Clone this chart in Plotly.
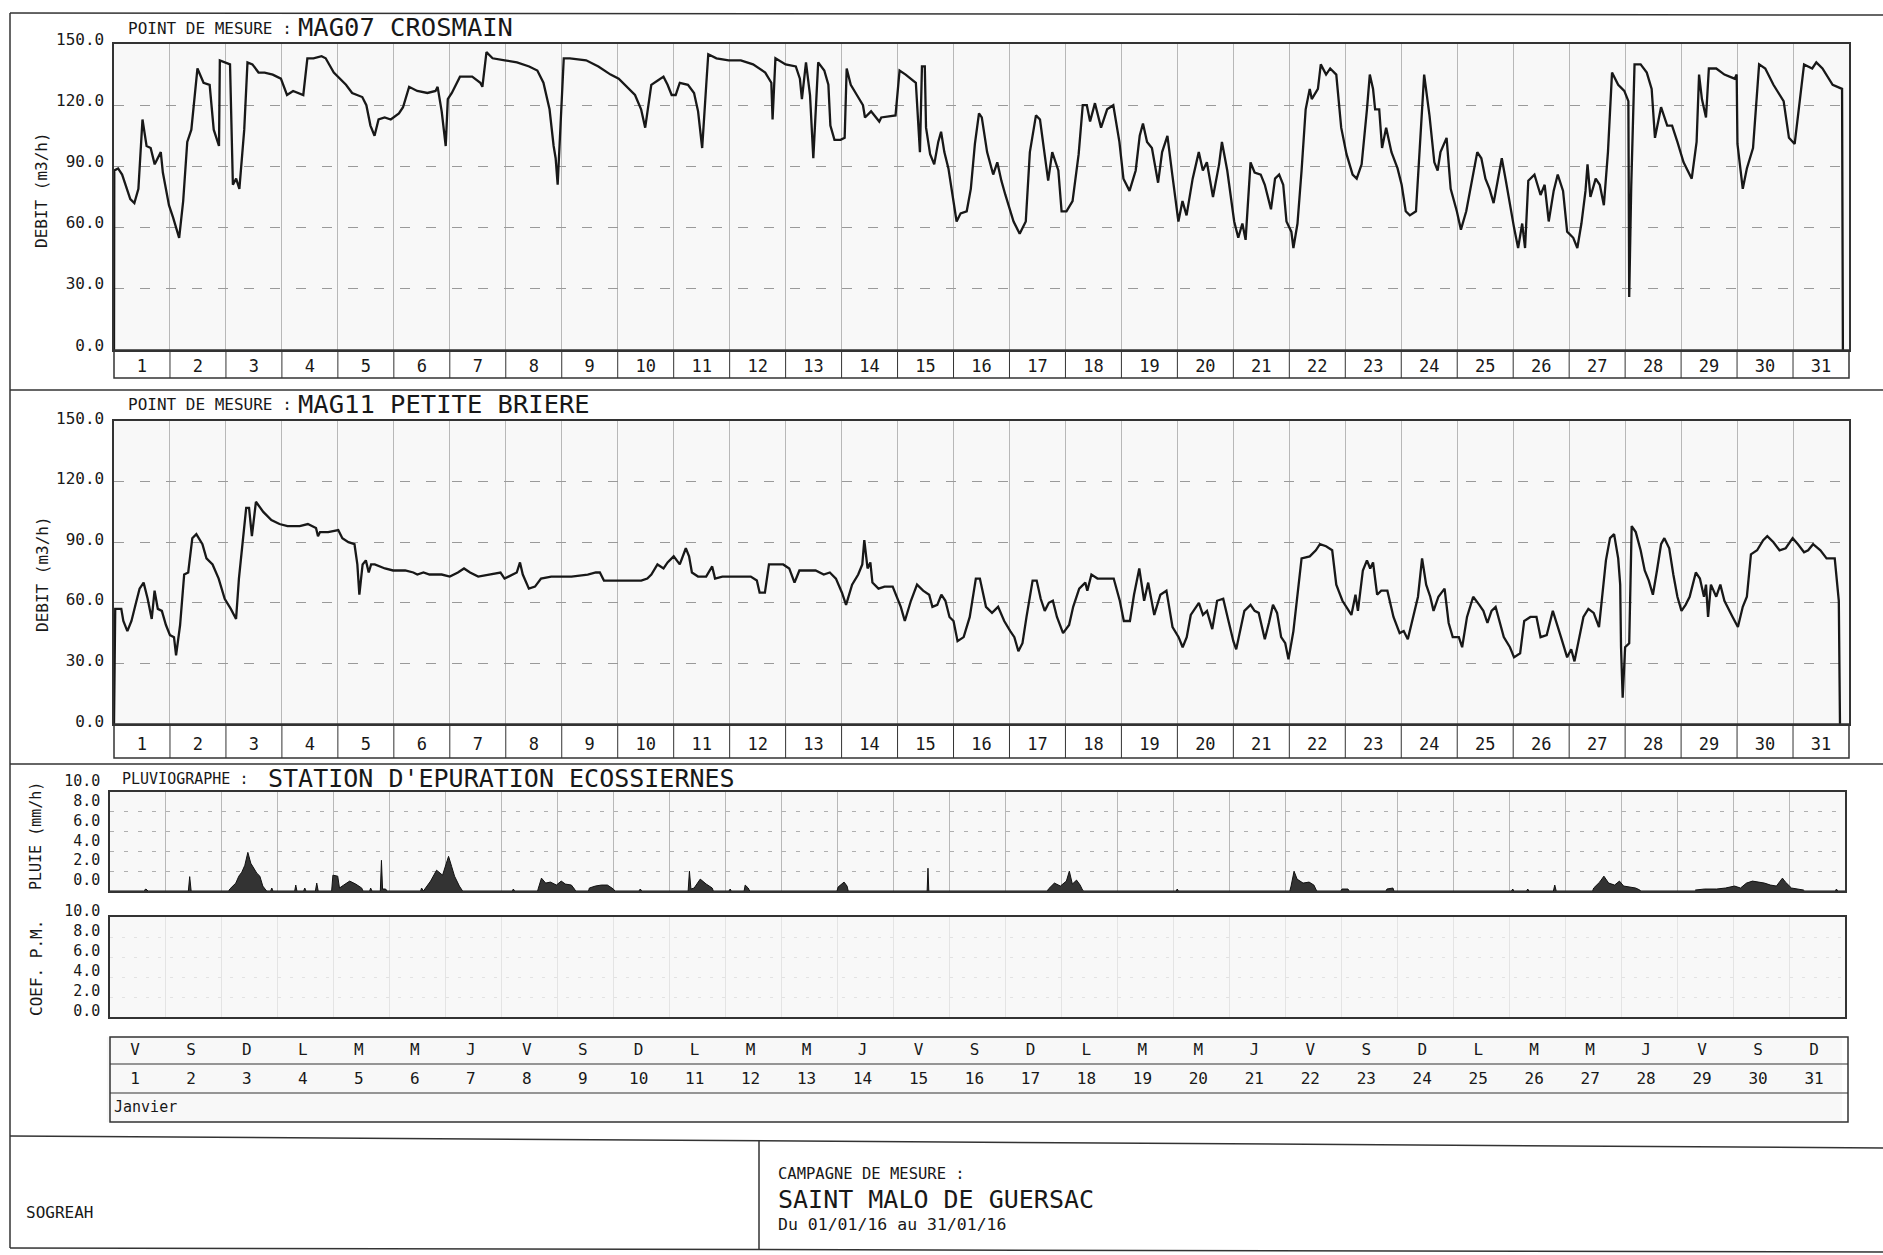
import plotly.graph_objects as go

# ---------------------------------------------------------------- data
days = list(range(1, 32))
day_letters = ["V", "S", "D", "L", "M", "M", "J", "V", "S", "D", "L", "M", "M", "J", "V",
               "S", "D", "L", "M", "M", "J", "V", "S", "D", "L", "M", "M", "J", "V", "S", "D"]
debit_ticks = [0, 30, 60, 90, 120, 150]
pluie_ticks = [0, 2, 4, 6, 8, 10]

# MAG07 CROSMAIN  (time in days since 1 Jan 00:00 -> 1.0 ; debit m3/h)
t_mag07 = [
    1.000, 1.005, 1.073, 1.145, 1.291, 1.364, 1.436, 1.509, 1.582, 1.655,
    1.727, 1.836, 1.873, 1.982, 2.055, 2.164, 2.236, 2.309, 2.382, 2.491,
    2.600, 2.709, 2.782, 2.876, 2.891, 3.000, 3.073, 3.124, 3.182, 3.240,
    3.327, 3.385, 3.473, 3.582, 3.691, 3.836, 3.982, 4.091, 4.200, 4.382,
    4.455, 4.564, 4.709, 4.782, 4.927, 5.145, 5.255, 5.436, 5.509, 5.582,
    5.655, 5.727, 5.836, 5.945, 6.091, 6.164, 6.273, 6.418, 6.600, 6.745,
    6.782, 6.855, 6.927, 6.964, 7.036, 7.182, 7.400, 7.545, 7.582, 7.655,
    7.764, 7.982, 8.200, 8.418, 8.564, 8.673, 8.782, 8.855, 8.891, 8.927,
    9.000, 9.036, 9.145, 9.436, 9.655, 9.873, 10.018,
    10.309, 10.418, 10.491, 10.564, 10.600, 10.709, 10.818, 10.891, 10.964, 11.036,
    11.109, 11.255, 11.364, 11.436, 11.509, 11.582, 11.618, 11.764, 11.982, 12.200,
    12.418, 12.636, 12.745, 12.767, 12.818, 13.000, 13.182, 13.255, 13.291, 13.364,
    13.436, 13.495, 13.582, 13.691, 13.764, 13.800, 13.873, 13.982, 14.055, 14.091,
    14.164, 14.273, 14.382, 14.418, 14.527, 14.673, 14.709, 14.964, 15.036, 15.145,
    15.327, 15.400, 15.436, 15.487, 15.509, 15.582, 15.655, 15.727, 15.778, 15.836,
    15.909, 15.982, 16.055, 16.127, 16.236, 16.309, 16.382, 16.455, 16.505, 16.600,
    16.709, 16.782, 16.855, 16.927, 17.000, 17.073, 17.182, 17.291, 17.364, 17.473,
    17.545, 17.618, 17.691, 17.764, 17.873, 17.931, 18.018, 18.127, 18.236, 18.309,
    18.382, 18.440, 18.527, 18.636, 18.745, 18.855, 18.964, 19.036, 19.145, 19.255,
    19.327, 19.385, 19.458, 19.545, 19.655, 19.727, 19.822, 19.909, 20.018, 20.091,
    20.164, 20.273, 20.382, 20.455, 20.527, 20.636, 20.745, 20.796, 20.891,
    21.015, 21.088, 21.161, 21.219, 21.307, 21.380, 21.489, 21.562, 21.672, 21.745,
    21.818, 21.891, 21.949, 22.036, 22.073, 22.146, 22.219, 22.292, 22.365, 22.401,
    22.511, 22.562, 22.657, 22.730, 22.839, 22.927, 23.022, 23.131, 23.204, 23.292,
    23.387, 23.438, 23.496, 23.533, 23.606, 23.657, 23.730, 23.825, 23.934, 24.007,
    24.080, 24.153, 24.263, 24.336, 24.409, 24.504, 24.591, 24.650, 24.701, 24.810,
    24.883, 24.993, 25.066, 25.161, 25.248, 25.358, 25.431, 25.504, 25.577, 25.650,
    25.723, 25.796, 25.869, 25.942, 26.015, 26.088, 26.161, 26.212, 26.270, 26.380,
    26.489, 26.562, 26.635, 26.723, 26.796, 26.891, 26.964, 27.073, 27.146, 27.219,
    27.292, 27.328, 27.380, 27.474, 27.547, 27.620, 27.693, 27.766, 27.876, 27.985,
    28.058, 28.073, 28.109, 28.168, 28.277, 28.387, 28.474, 28.533, 28.642, 28.752,
    28.839, 28.934, 29.044, 29.190, 29.277, 29.321, 29.372, 29.445, 29.496, 29.628,
    29.774, 29.956, 29.993, 30.007, 30.102, 30.175, 30.285, 30.394, 30.504, 30.650,
    30.832, 30.927, 31.029, 31.124, 31.197, 31.343, 31.416, 31.526, 31.708, 31.876,
    31.891,
]
q_mag07 = [
    0, 88, 89, 86, 74, 72, 79, 113, 100, 99,
    91, 97, 87, 71, 65, 55, 73, 102, 108, 138,
    131, 130, 108, 100, 142, 141, 140, 81, 84, 79,
    108, 141, 140, 136, 136, 135, 133, 125, 127, 125,
    143, 143, 144, 143, 136, 130, 126, 124, 120, 110,
    105, 113, 114, 113, 116, 119, 129, 127, 126, 127,
    129, 117, 100, 123, 126, 134, 134, 131, 129, 146,
    143, 142, 141, 139, 137, 131, 118, 100, 94, 81,
    125, 143, 143, 142, 139, 135, 133,
    125, 118, 109, 123, 130, 132, 134, 130, 125, 125,
    131, 130, 126, 117, 99, 130, 145, 143, 142, 142,
    140, 136, 131, 113, 143, 140, 139, 133, 123, 141,
    125, 94, 141, 137, 130, 110, 103, 103, 104, 138,
    130, 125, 120, 114, 117, 112, 114, 115, 137, 135,
    131, 97, 139, 139, 109, 96, 91, 102, 107, 97,
    89, 76, 63, 67, 68, 79, 101, 116, 114, 97,
    86, 92, 83, 76, 70, 63, 57, 63, 97, 115,
    113, 99, 83, 97, 88, 68, 68, 73, 96, 120,
    120, 112, 121, 109, 118, 120, 102, 84, 78, 88,
    105, 111, 102, 99, 82, 97, 105, 86, 63, 73,
    66, 84, 97, 88, 92, 75, 91, 102, 88,
    63, 55, 62, 54, 92, 87, 86, 81, 69, 84,
    86, 81, 63, 58, 50, 62, 88, 118, 128, 123,
    128, 140, 135, 138, 135, 109, 96, 86, 84, 91,
    118, 135, 128, 118, 118, 99, 109, 97, 89, 81,
    68, 66, 68, 102, 135, 115, 92, 88, 97, 104,
    79, 68, 59, 68, 81, 97, 94, 84, 79, 72,
    83, 94, 83, 71, 60, 50, 62, 50, 83, 86,
    76, 81, 63, 78, 86, 78, 58, 55, 50, 62,
    78, 91, 75, 84, 81, 71, 97, 136, 130, 127,
    122, 26, 80, 140, 140, 136, 128, 104, 119, 110,
    110, 102, 92, 84, 102, 135, 123, 114, 138, 138,
    135, 133, 135, 101, 79, 89, 99, 140, 138, 130,
    122, 104, 101, 123, 140, 138, 141, 138, 130, 128,
    0,
]

# MAG11 PETITE BRIERE
t_mag11 = [
    1.000, 1.022, 1.130, 1.167, 1.239, 1.312, 1.384, 1.457, 1.529, 1.601,
    1.674, 1.725, 1.783, 1.855, 1.928, 2.000, 2.072, 2.109, 2.181, 2.254,
    2.326, 2.399, 2.471, 2.580, 2.652, 2.761, 2.870, 2.978, 3.087, 3.181,
    3.232, 3.304, 3.362, 3.413, 3.464, 3.536, 3.667, 3.812, 3.957, 4.101,
    4.319, 4.464, 4.609, 4.645, 4.681, 4.826, 5.007, 5.080, 5.188, 5.297,
    5.348, 5.384, 5.442, 5.500, 5.551, 5.594, 5.659, 5.841, 5.986, 6.203,
    6.348, 6.420, 6.529, 6.638, 6.855, 7.000, 7.145, 7.254, 7.362, 7.507,
    7.725, 7.906, 7.978, 8.123, 8.196, 8.254, 8.304, 8.413, 8.522, 8.630,
    8.812, 9.174, 9.464, 9.609, 9.681, 9.754, 10.116,
    10.420, 10.529, 10.601, 10.710, 10.819, 10.891, 11.000, 11.109, 11.217, 11.275,
    11.326, 11.435, 11.580, 11.688, 11.739, 11.870, 12.159, 12.377, 12.486, 12.536,
    12.630, 12.703, 12.812, 12.957, 13.065, 13.159, 13.246, 13.319, 13.536, 13.681,
    13.790, 13.899, 14.007, 14.080, 14.188, 14.297, 14.370, 14.406, 14.464, 14.514,
    14.551, 14.659, 14.768, 14.913, 15.058, 15.130, 15.239, 15.348, 15.457, 15.565,
    15.623, 15.710, 15.783, 15.855, 15.928, 16.000, 16.072, 16.181, 16.290, 16.399,
    16.471, 16.580, 16.688, 16.797, 16.906, 17.014, 17.087, 17.159, 17.232, 17.304,
    17.413, 17.486, 17.558, 17.630, 17.703, 17.775, 17.848, 17.957, 18.065, 18.138,
    18.246, 18.355, 18.391, 18.464, 18.572, 18.862, 18.971, 19.043, 19.152, 19.225,
    19.319, 19.406, 19.478, 19.587, 19.696, 19.804, 19.913, 20.022, 20.094, 20.167,
    20.239, 20.384, 20.457, 20.529, 20.623, 20.710, 20.819, 20.913, 21.000,
    21.051, 21.124, 21.197, 21.307, 21.380, 21.453, 21.562, 21.635, 21.708, 21.781,
    21.854, 21.927, 21.985, 22.073, 22.146, 22.219, 22.365, 22.474, 22.547, 22.657,
    22.766, 22.839, 22.949, 23.022, 23.109, 23.182, 23.226, 23.314, 23.387, 23.445,
    23.496, 23.569, 23.642, 23.752, 23.861, 23.971, 24.044, 24.117, 24.190, 24.299,
    24.372, 24.445, 24.518, 24.577, 24.664, 24.774, 24.847, 24.920, 25.029, 25.088,
    25.175, 25.285, 25.394, 25.467, 25.540, 25.613, 25.686, 25.759, 25.832, 25.942,
    26.015, 26.124, 26.197, 26.307, 26.416, 26.489, 26.599, 26.708, 26.781, 26.854,
    26.964, 27.036, 27.095, 27.182, 27.255, 27.343, 27.438, 27.533, 27.584, 27.657,
    27.730, 27.803, 27.876, 27.912, 27.927, 27.956, 28.000, 28.073, 28.117, 28.190,
    28.277, 28.350, 28.423, 28.496, 28.569, 28.642, 28.701, 28.788, 28.861, 28.934,
    29.007, 29.080, 29.153, 29.263, 29.336, 29.409, 29.445, 29.482, 29.533, 29.628,
    29.701, 29.774, 29.920, 30.015, 30.102, 30.175, 30.248, 30.358, 30.467, 30.540,
    30.650, 30.759, 30.869, 30.993, 31.088, 31.197, 31.270, 31.358, 31.489, 31.599,
    31.745, 31.818, 31.839,
]
q_mag11 = [
    0, 57, 57, 51, 46, 51, 59, 67, 70, 62,
    52, 66, 57, 56, 49, 44, 43, 34, 49, 74,
    75, 92, 94, 89, 82, 79, 72, 62, 57, 52,
    72, 90, 107, 107, 93, 110, 105, 101, 99, 98,
    98, 99, 97, 93, 95, 95, 96, 92, 90, 89,
    79, 64, 79, 81, 75, 79, 79, 77, 76, 76,
    75, 74, 75, 74, 74, 73, 75, 77, 75, 73,
    74, 75, 72, 74, 75, 80, 74, 67, 68, 72,
    73, 73, 74, 75, 75, 71, 71,
    71, 72, 74, 79, 77, 80, 83, 79, 87, 83,
    75, 73, 73, 78, 72, 73, 73, 73, 71, 65,
    65, 79, 79, 79, 77, 70, 76, 76, 76, 74,
    75, 72, 65, 59, 69, 74, 79, 91, 77, 80,
    70, 67, 68, 68, 58, 51, 61, 69, 66, 64,
    58, 59, 64, 61, 53, 51, 41, 43, 53, 72,
    72, 58, 55, 58, 51, 46, 43, 36, 40, 53,
    71, 71, 62, 56, 60, 61, 53, 45, 49, 58,
    67, 70, 66, 74, 72, 72, 61, 51, 51, 64,
    77, 61, 70, 54, 64, 66, 48, 43, 38, 43,
    54, 60, 54, 56, 47, 61, 62, 51, 41,
    37, 46, 56, 59, 56, 55, 42, 50, 59, 55,
    43, 40, 32, 46, 63, 82, 83, 86, 89, 88,
    86, 69, 61, 58, 54, 64, 56, 76, 81, 77,
    80, 64, 66, 66, 53, 45, 46, 42, 50, 63,
    82, 69, 63, 56, 63, 67, 50, 43, 43, 38,
    53, 63, 59, 56, 50, 56, 58, 50, 43, 38,
    33, 35, 51, 53, 53, 43, 44, 56, 50, 43,
    33, 37, 31, 43, 53, 57, 55, 48, 63, 81,
    92, 94, 82, 69, 38, 13, 38, 40, 98, 95,
    86, 76, 71, 64, 76, 89, 92, 87, 74, 63,
    56, 59, 63, 75, 72, 63, 69, 53, 69, 63,
    69, 61, 53, 48, 58, 63, 84, 86, 91, 93,
    90, 86, 87, 92, 89, 85, 86, 89, 86, 82,
    82, 61, 0,
]

# PLUVIOGRAPHE - STATION D'EPURATION ECOSSIERNES (mm/h)
t_pluie = [
    1.00, 1.60, 1.642, 1.68, 2.40, 2.424, 2.45,
    3.12, 3.141, 3.248, 3.302, 3.355, 3.409, 3.463, 3.516, 3.570, 3.623, 3.677, 3.730, 3.784, 3.80,
    3.87, 3.891, 3.91, 4.30, 4.319, 4.34, 4.46, 4.480, 4.50, 4.67, 4.694, 4.72,
    4.96, 4.983, 5.069, 5.10, 5.176, 5.283, 5.390, 5.497, 5.52, 5.64, 5.657, 5.68,
    5.83, 5.850, 5.87, 5.925, 5.95,
    6.55, 6.567, 6.60, 6.728, 6.835, 6.942, 6.996, 7.049, 7.103, 7.156, 7.242, 7.285, 7.30,
    8.19, 8.206, 8.23,
    8.64, 8.655, 8.709, 8.784, 8.869, 8.976, 9.062, 9.137, 9.244, 9.298, 9.32,
    9.55, 9.565, 9.672, 9.779, 9.887, 9.994, 10.02, 10.45, 10.475, 10.50,
    11.33, 11.353, 11.38, 11.437, 11.546, 11.653, 11.760, 11.78,
    12.06, 12.081, 12.10, 12.33, 12.349, 12.403, 12.43,
    13.99, 14.009, 14.116, 14.169, 14.19, 15.60, 15.615, 15.63,
    17.75, 17.767, 17.874, 17.981, 18.088, 18.141, 18.195, 18.270, 18.334, 18.377, 18.40,
    20.05, 20.069, 20.09,
    22.08, 22.103, 22.156, 22.210, 22.317, 22.424, 22.510, 22.552, 22.57,
    22.99, 23.013, 23.120, 23.14, 23.80, 23.816, 23.923, 23.94,
    26.04, 26.064, 26.08, 26.31, 26.332, 26.35, 26.79, 26.814, 26.84,
    27.49, 27.510, 27.617, 27.692, 27.777, 27.884, 27.970, 28.045, 28.152, 28.259, 28.334, 28.35,
    29.31, 29.330, 29.490, 29.705, 29.865, 30.026, 30.133, 30.240, 30.347, 30.454, 30.561,
    30.668, 30.775, 30.882, 30.936, 31.043, 31.150, 31.257, 31.28,
    31.83, 31.846, 31.87, 32.00,
]
v_pluie = [
    0, 0, 0.2, 0, 0, 1.45, 0,
    0, 0.2, 0.8, 1.5, 1.9, 2.6, 3.9, 2.8, 2.3, 1.8, 1.5, 0.5, 0.1, 0,
    0, 0.3, 0, 0, 0.6, 0, 0, 0.3, 0, 0, 0.8, 0,
    0, 1.6, 1.5, 0.3, 0.6, 1.0, 0.7, 0.3, 0, 0, 0.3, 0,
    0, 3.1, 0.2, 0.2, 0,
    0, 0.3, 0, 1.0, 2.1, 1.6, 2.5, 3.5, 2.5, 1.5, 0.5, 0.1, 0,
    0, 0.2, 0,
    0, 0.3, 1.3, 0.8, 0.9, 0.6, 1.0, 0.7, 0.6, 0.2, 0,
    0, 0.3, 0.5, 0.6, 0.6, 0.2, 0, 0, 0.2, 0,
    0, 2.0, 0.2, 0.3, 1.2, 0.7, 0.3, 0,
    0, 0.2, 0, 0, 0.6, 0.3, 0,
    0, 0.4, 0.9, 0.5, 0, 0, 2.3, 0,
    0, 0.2, 0.8, 0.5, 1.0, 2.0, 0.7, 1.1, 0.6, 0.1, 0,
    0, 0.2, 0,
    0, 0.5, 2.0, 1.2, 0.8, 0.9, 0.6, 0.1, 0,
    0, 0.2, 0.2, 0, 0, 0.2, 0.3, 0,
    0, 0.2, 0, 0, 0.2, 0, 0, 0.6, 0,
    0, 0.3, 0.9, 1.5, 0.8, 0.6, 1.0, 0.5, 0.4, 0.3, 0.1, 0,
    0, 0.1, 0.2, 0.2, 0.3, 0.5, 0.3, 0.8, 1.0, 0.9, 0.8,
    0.6, 0.5, 1.3, 0.9, 0.3, 0.2, 0.1, 0,
    0, 0.2, 0, 0,
]

assert len(t_mag07) == len(q_mag07)
assert len(t_mag11) == len(q_mag11)
assert len(t_pluie) == len(v_pluie)

# ---------------------------------------------------------------- layout helpers
W, H = 1883, 1255
def fx(p):
    return p / W
def fy(p):
    return 1 - p / H

FONT = "DejaVu Sans Mono"
INK = "#181818"
FRAME = "#333333"
VGRID = "#b8b8b8"

day_centres = [d + 0.5 for d in days]
day_bounds = days[1:]

def x_axis(left, right, labels, standoff=0):
    ax = dict(range=[1, 32], domain=[fx(left), fx(right)], showgrid=False, zeroline=False,
              showline=True, mirror=True, linecolor=FRAME, linewidth=1.6, ticks="",
              fixedrange=True, automargin=False,
              minor=dict(tickmode="array", tickvals=day_bounds, showgrid=True,
                         gridcolor=VGRID, gridwidth=1, ticks=""))
    if labels:
        ax.update(tickmode="array", tickvals=day_centres, ticktext=[str(d) for d in days],
                  tickfont=dict(family=FONT, size=17, color=INK), ticklabelstandoff=standoff)
    else:
        ax.update(showticklabels=False)
    return ax

def y_axis(top, bottom, rng, ticks, shift, gridcolor, griddash, size):
    return dict(domain=[fy(bottom), fy(top)], range=rng, tickmode="array", tickvals=ticks,
                tickformat=".1f", showgrid=True, gridcolor=gridcolor, griddash=griddash,
                gridwidth=1, zeroline=False, showline=True, mirror=True, linecolor=FRAME,
                linewidth=1.6, ticks="", fixedrange=True, automargin=False,
                ticklabelstandoff=5, ticklabelshift=shift,
                tickfont=dict(family=FONT, size=size, color=INK))

fig = go.Figure()

fig.add_trace(go.Scatter(x=t_mag07, y=q_mag07, mode="lines", xaxis="x", yaxis="y",
                         line=dict(color=INK, width=2.3), hoverinfo="skip"))
fig.add_trace(go.Scatter(x=t_mag11, y=q_mag11, mode="lines", xaxis="x2", yaxis="y2",
                         line=dict(color=INK, width=2.3), hoverinfo="skip"))
fig.add_trace(go.Scatter(x=t_pluie, y=v_pluie, mode="lines", xaxis="x3", yaxis="y3",
                         fill="tozeroy", fillcolor="#333333",
                         line=dict(color="#111111", width=1), hoverinfo="skip"))
# COEF. P.M. panel: no values recorded, empty series keeps the panel drawn
fig.add_trace(go.Scatter(x=[], y=[], mode="lines", xaxis="x4", yaxis="y4",
                         hoverinfo="skip"))
# calendar table
fig.add_trace(go.Scatter(x=day_centres, y=[2.5] * len(days), mode="text", text=day_letters,
                         xaxis="x5", yaxis="y5", hoverinfo="skip",
                         textfont=dict(family=FONT, size=16, color=INK)))
fig.add_trace(go.Scatter(x=day_centres, y=[1.5] * len(days), mode="text",
                         text=[str(d) for d in days], xaxis="x5", yaxis="y5", hoverinfo="skip",
                         textfont=dict(family=FONT, size=16, color=INK)))

# ---------------------------------------------------------------- frames & lines
shapes = []
def line(x0, y0, x1, y1, color=FRAME, width=1.5):
    shapes.append(dict(type="line", xref="paper", yref="paper", x0=fx(x0), y0=fy(y0),
                       x1=fx(x1), y1=fy(y1), line=dict(color=color, width=width)))

# page frame and separators
line(10, 13, W, 15)
line(10, 13, 10, 1248)
line(10, 390, W, 390)
line(10, 764, W, 764)
line(10, 1136, W, 1148)
line(10, 1248, W, 1252)
line(759, 1141, 759, 1249)

# day boxes under the two flow panels
for xa, top, bot in (("x", 350, 378), ("x2", 724, 758)):
    shapes.append(dict(type="rect", xref="paper", yref="paper", x0=fx(114), x1=fx(1849),
                       y0=fy(bot), y1=fy(top), line=dict(color=FRAME, width=1.5)))
    for d in day_bounds:
        shapes.append(dict(type="line", xref=xa, yref="paper", x0=d, x1=d,
                           y0=fy(bot), y1=fy(top), line=dict(color=FRAME, width=1)))

# calendar table
shapes.append(dict(type="rect", xref="paper", yref="paper", x0=fx(110), x1=fx(1848),
                   y0=fy(1122), y1=fy(1037), line=dict(color=FRAME, width=1.5)))
line(110, 1064, 1848, 1064, width=1.2)
line(110, 1093, 1848, 1093, width=1.2)

# ---------------------------------------------------------------- annotations
ann = []
def text(x, y, s, size, xanchor="left", yanchor="middle", angle=0):
    ann.append(dict(x=fx(x), y=fy(y), xref="paper", yref="paper", text=s, showarrow=False,
                    xanchor=xanchor, yanchor=yanchor, textangle=angle,
                    font=dict(family=FONT, size=size, color=INK)))

text(126, 28, "POINT DE MESURE :", 16)
text(296, 27, "MAG07 CROSMAIN", 25.5)
text(126, 405, "POINT DE MESURE :", 16)
text(296, 404, "MAG11 PETITE BRIERE", 25.5)
text(120, 779, "PLUVIOGRAPHE :", 15)
text(266, 778, "STATION D'EPURATION ECOSSIERNES", 25)

text(42, 190, "DEBIT (m3/h)", 16, "center", "middle", -90)
text(42, 574, "DEBIT (m3/h)", 16, "center", "middle", -90)
text(36, 836, "PLUIE (mm/h)", 15, "center", "middle", -90)
text(36, 968, "COEF. P.M.", 16, "center", "middle", -90)

text(112, 1107, "Janvier", 15)

text(24, 1212, "SOGREAH", 16)
text(776, 1174, "CAMPAGNE DE MESURE :", 15.5)
text(776, 1199, "SAINT MALO DE GUERSAC", 25)
text(776, 1224, "Du 01/01/16 au 31/01/16", 16.5)

# ---------------------------------------------------------------- axes
fig.update_layout(
    width=W, height=H, margin=dict(l=0, r=0, t=0, b=0, pad=0, autoexpand=False),
    paper_bgcolor="white", plot_bgcolor="#f8f8f8", showlegend=False,
    xaxis=x_axis(114, 1849, True, 0),
    yaxis=y_axis(44, 350, [0, 150], debit_ticks, -5, "#9a9a9a", "10px,16px", 16),
    xaxis2=x_axis(114, 1849, True, 4),
    yaxis2=y_axis(421, 724, [0, 150], debit_ticks, -3, "#9a9a9a", "10px,16px", 16),
    xaxis3=x_axis(110, 1845, False),
    yaxis3=y_axis(792, 891, [0, 10], pluie_ticks, -11, "#b0b0b0", "4px,10px", 15),
    xaxis4=x_axis(110, 1845, False),
    yaxis4=y_axis(917, 1017, [0, 10], pluie_ticks, -6, "#e2e2e2", "3px,9px", 15),
    xaxis5=dict(domain=[fx(107), fx(1842)], range=[1, 32], visible=False, fixedrange=True,
                automargin=False),
    yaxis5=dict(domain=[fy(1122), fy(1037)], range=[0, 3], visible=False, fixedrange=True,
                automargin=False),
    shapes=shapes, annotations=ann,
)
fig.update_layout(xaxis2_anchor="y2", yaxis2_anchor="x2", xaxis3_anchor="y3",
                  yaxis3_anchor="x3", xaxis4_anchor="y4", yaxis4_anchor="x4",
                  xaxis5_anchor="y5", yaxis5_anchor="x5")
fig.update_layout(xaxis4_minor_gridcolor="#e4e4e4")

fig.write_html(
    "out.html",
    config={"displayModeBar": False, "staticPlot": True},
    post_script=(
        "document.documentElement.style.margin='0';"
        "document.documentElement.style.overflow='hidden';"
        "document.body.style.margin='0';"
        "document.body.style.overflow='hidden';"
        "var gd=document.getElementById('{plot_id}');"
        "gd.style.position='fixed';gd.style.top='0px';gd.style.left='0px';"
    ),
)
